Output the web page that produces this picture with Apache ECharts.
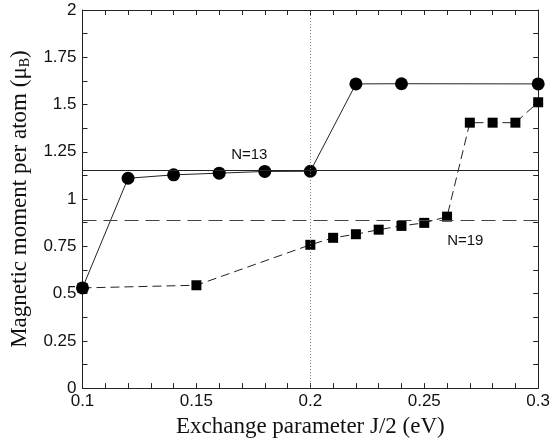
<!DOCTYPE html>
<html>
<head>
<meta charset="utf-8">
<script src="https://cdn.jsdelivr.net/npm/echarts@6/dist/echarts.min.js"></script>
<style>html,body{margin:0;padding:0;background:#fff}#c{width:553px;height:443px}</style>
</head>
<body>
<div id="c"></div>
<script>
const xN13 = [0.10, 0.12, 0.14, 0.16, 0.18, 0.20, 0.22, 0.24, 0.30];
const yN13 = [0.53, 1.11, 1.128, 1.137, 1.146, 1.147, 1.609, 1.61, 1.609];
const xN19 = [0.10, 0.15, 0.20, 0.21, 0.22, 0.23, 0.24, 0.25, 0.26, 0.27, 0.28, 0.29, 0.30];
const yN19 = [0.53, 0.544, 0.758, 0.795, 0.814, 0.838, 0.858, 0.874, 0.907, 1.404, 1.404, 1.404, 1.512];
const refN13 = 1.147;
const refN19 = 0.89;
const vLineX = 0.2;
const labelN13 = ['N=13', 0.1732, 1.234];
const labelN19 = ['N=19', 0.268, 0.78];
const xTicks = ['0.1', '0.15', '0.2', '0.25', '0.3'];
const yTicks = ['0', '0.25', '0.5', '0.75', '1', '1.25', '1.5', '1.75', '2'];

const sans = 'Liberation Sans';
const serif = 'Liberation Serif';
const ink = '#111';

function pair(xs, ys) { return xs.map((x, i) => [x, ys[i]]); }

const chart = echarts.init(document.getElementById('c'), null, {renderer: 'canvas'});
const axisCommon = {
  axisLine: {show: true, onZero: false, lineStyle: {color: '#222', width: 1}},
  axisTick: {show: true, inside: true, length: 5, lineStyle: {color: '#222'}},
  minorTick: {show: true, length: 5, lineStyle: {color: '#222'}},
  splitLine: {show: false}
};
chart.setOption({
  animation: false,
  backgroundColor: '#fff',
  grid: {left: 81, right: 12, top: 10, bottom: 53},
  xAxis: [
    Object.assign({}, axisCommon, {
      type: 'value', min: 0.1, max: 0.3, interval: 0.05, position: 'bottom',
      minorTick: Object.assign({}, axisCommon.minorTick, {splitNumber: 5}),
      axisLabel: {color: ink, fontFamily: sans, fontSize: 17, margin: 5,
        formatter: (v) => xTicks[Math.round((v - 0.1) / 0.05)]},
      name: 'Exchange parameter J/2 (eV)', nameLocation: 'middle', nameGap: 24,
      nameTextStyle: {color: ink, fontFamily: serif, fontSize: 23}
    }),
    Object.assign({}, axisCommon, {
      type: 'value', min: 0.1, max: 0.3, interval: 0.05, position: 'top',
      minorTick: Object.assign({}, axisCommon.minorTick, {splitNumber: 5}),
      axisLabel: {show: false}
    })
  ],
  yAxis: [
    Object.assign({}, axisCommon, {
      type: 'value', min: 0, max: 2, interval: 0.25, position: 'left',
      minorTick: Object.assign({}, axisCommon.minorTick, {splitNumber: 2}),
      axisLabel: {color: ink, fontFamily: sans, fontSize: 17, margin: 6,
        formatter: (v) => yTicks[Math.round(v / 0.25)]},
      name: 'Magnetic moment per atom (\u03bc{sub|B})', nameLocation: 'middle', nameGap: 49,
      nameTextStyle: {color: ink, fontFamily: serif, fontSize: 23,
        rich: {sub: {fontFamily: serif, fontSize: 14, color: ink, padding: [12, 0, 0, 0]}}}
    }),
    Object.assign({}, axisCommon, {
      type: 'value', min: 0, max: 2, interval: 0.25, position: 'right',
      minorTick: Object.assign({}, axisCommon.minorTick, {splitNumber: 2}),
      axisLabel: {show: false}
    })
  ],
  series: [
    {
      type: 'line', data: pair(xN19, yN19), symbol: 'rect', symbolSize: 10,
      itemStyle: {color: '#000'},
      lineStyle: {color: '#222', width: 1, type: [9, 5]},
      z: 3,
      markLine: {
        silent: true, symbol: 'none', label: {show: false},
        data: [
          {yAxis: refN19, lineStyle: {color: '#444', width: 1, type: [14, 7]}},
          {xAxis: vLineX, lineStyle: {color: '#777', width: 1, type: [1, 2]}}
        ]
      },
      markPoint: {
        symbol: 'circle', symbolSize: 0,
        label: {show: true, color: ink, fontFamily: sans, fontSize: 15, formatter: '{b}', position: 'inside'},
        data: [{name: labelN19[0], coord: [labelN19[1], labelN19[2]]}]
      }
    },
    {
      type: 'line', data: pair(xN13, yN13), symbol: 'circle', symbolSize: 13,
      itemStyle: {color: '#000'},
      lineStyle: {color: '#222', width: 1},
      z: 4,
      markLine: {
        silent: true, symbol: 'none', label: {show: false},
        data: [
          {yAxis: refN13, lineStyle: {color: '#222', width: 1, type: 'solid'}}
        ]
      },
      markPoint: {
        symbol: 'circle', symbolSize: 0,
        label: {show: true, color: ink, fontFamily: sans, fontSize: 15, formatter: '{b}', position: 'inside'},
        data: [{name: labelN13[0], coord: [labelN13[1], labelN13[2]]}]
      }
    }
  ]
});
</script>
</body>
</html>
